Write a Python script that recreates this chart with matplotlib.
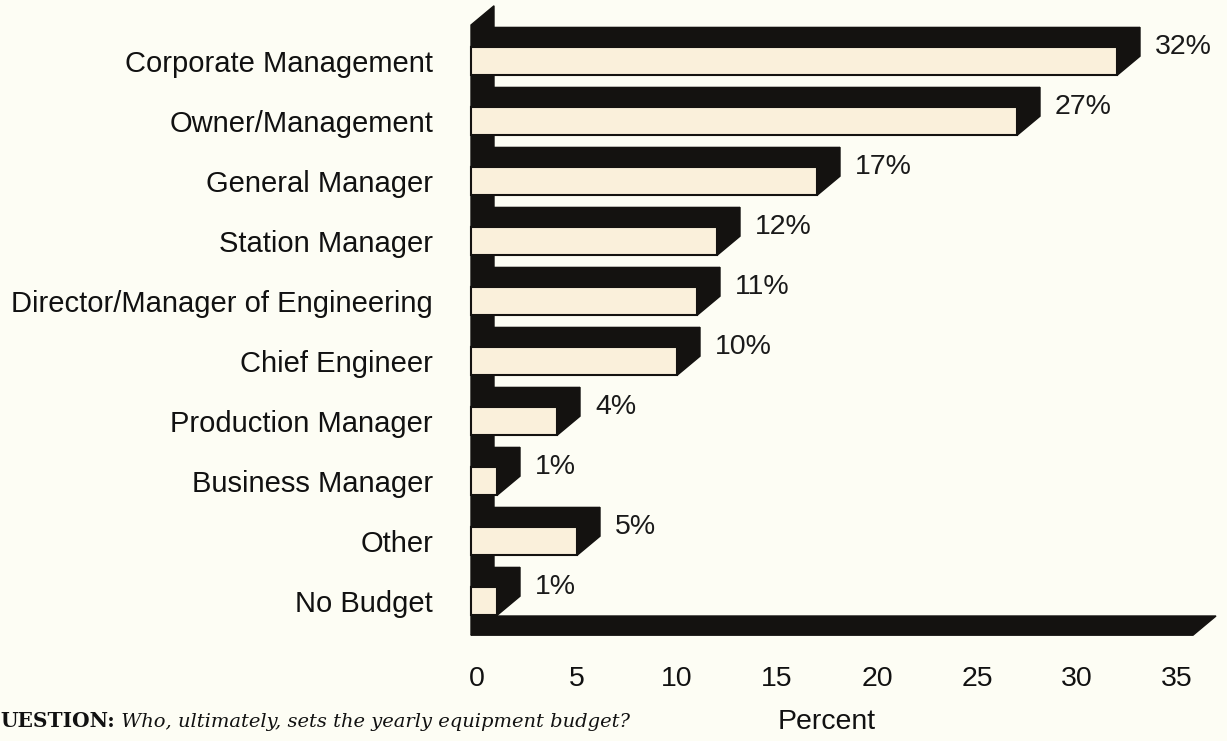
import matplotlib.pyplot as plt
from matplotlib.patches import Polygon

# Data
categories = ["Corporate Management", "Owner/Management", "General Manager",
              "Station Manager", "Director/Manager of Engineering", "Chief Engineer",
              "Production Manager", "Business Manager", "Other", "No Budget"]
percent = [32, 27, 17, 12, 11, 10, 4, 1, 5, 1]
xticks = [0, 5, 10, 15, 20, 25, 30, 35]

# Look
bg = "#FDFDF4"
cream = "#FAF0DB"
black = "#141210"
DX, DY = 1.15, 0.32   # depth of the fake 3D
H = 0.48              # bar height
X0 = -0.3             # wall front
FLOOR_Y = 9.57
WALL_TOP = -0.6
FLOOR_END = 35.8

plt.rcParams["font.family"] = ["Liberation Sans", "DejaVu Sans"]

fig = plt.figure(figsize=(12.27, 7.41), dpi=100, facecolor=bg)
ax = fig.add_axes([465 / 1227, 101 / 741, 762 / 1227, 639 / 741])
ax.set_facecolor(bg)
ax.set_xlim(-0.6, 37.5)
ax.set_ylim(9.65, -1.0)

# left wall
wall = [(X0, FLOOR_Y), (X0, WALL_TOP), (X0 + DX, WALL_TOP - DY), (X0 + DX, FLOOR_Y - DY)]
ax.add_patch(Polygon(wall, closed=True, facecolor=black, edgecolor=black, zorder=1))

# floor
floor = [(X0, FLOOR_Y), (FLOOR_END, FLOOR_Y), (FLOOR_END + DX, FLOOR_Y - DY), (X0 + DX, FLOOR_Y - DY)]
ax.add_patch(Polygon(floor, closed=True, facecolor=black, edgecolor=black, zorder=2))

ypos = list(range(len(categories)))
for y, v in zip(ypos, percent):
    top = y - H / 2
    bot = y + H / 2
    # top face
    ax.add_patch(Polygon([(X0, top), (v, top), (v + DX, top - DY), (X0 + DX, top - DY)],
                         closed=True, facecolor=black, edgecolor=black, lw=1, zorder=3))
    # right side
    ax.add_patch(Polygon([(v, bot), (v, top), (v + DX, top - DY), (v + DX, bot - DY)],
                         closed=True, facecolor=black, edgecolor=black, lw=1, zorder=3))
    ax.text(v + DX + 0.75, top, f"{v}%", fontsize=20.5, va="center", ha="left", color="#1a1a1a")

# front faces
ax.barh(ypos, [v - X0 for v in percent], left=X0, height=H, color=cream,
        edgecolor=black, linewidth=1.5, zorder=4)

ax.set_yticks(ypos)
ax.set_yticklabels(categories, fontsize=21, color="#111111")
ax.set_xticks(xticks)
ax.set_xticklabels([str(t) for t in xticks], fontsize=20.5, color="#111111")
ax.tick_params(axis="y", length=0, pad=23)
ax.tick_params(axis="x", length=0, pad=19)
for s in ax.spines.values():
    s.set_visible(False)

ax.text(17.5, -0.128, "Percent", transform=ax.get_xaxis_transform(),
        ha="center", va="center", fontsize=20.5, color="#111111")

q = fig.text(0.0, 14 / 741, "UESTION:", fontfamily="DejaVu Serif", fontweight="bold",
             fontsize=14.5, color="#111111", va="baseline")
ax.annotate(" Who, ultimately, sets the yearly equipment budget?", xy=(1, 0), xycoords=q,
            va="bottom", fontfamily="DejaVu Serif", fontstyle="italic", fontsize=14,
            color="#111111", annotation_clip=False)

fig.savefig("out.png", dpi=100, facecolor=bg)
